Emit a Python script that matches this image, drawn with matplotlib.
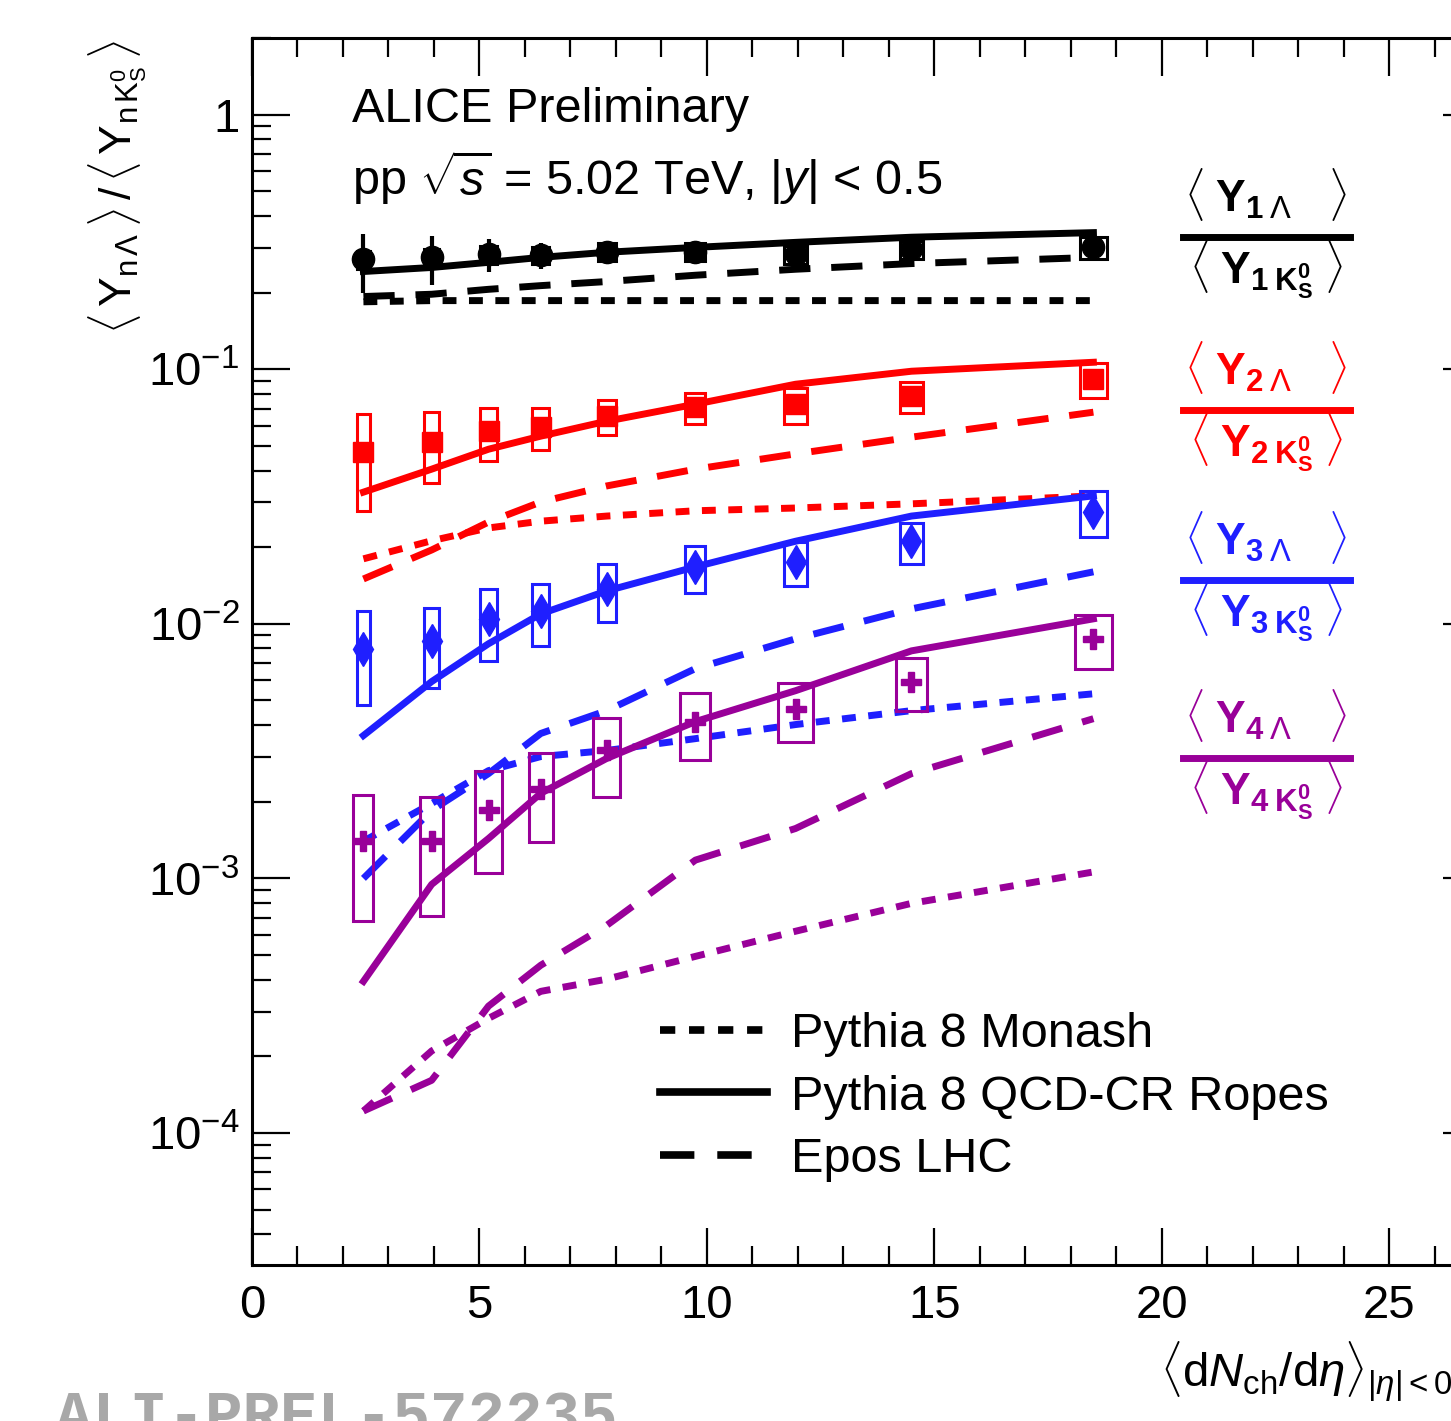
import numpy as np
import matplotlib.pyplot as plt
from matplotlib.patches import Rectangle
from matplotlib.lines import Line2D
from matplotlib.ticker import FixedLocator, FixedFormatter, MultipleLocator, LogLocator, NullFormatter

plt.rcParams['font.family'] = ['Liberation Sans', 'DejaVu Sans']
plt.rcParams['mathtext.fontset'] = 'custom'
plt.rcParams['mathtext.rm'] = 'Liberation Sans'
plt.rcParams['mathtext.it'] = 'Liberation Sans:italic'
plt.rcParams['mathtext.bf'] = 'Liberation Sans:bold'

W, H = 1451, 1421

# multiplicity classes <dNch/deta>
dndeta = [2.45, 3.95, 5.2, 6.35, 7.8, 9.75, 11.95, 14.5, 18.5]

# measured ratios <Y_nL>/<Y_nK0S>, n = 1..4
ratio_1 = [0.270, 0.275, 0.283, 0.280, 0.290, 0.290, 0.283, 0.296, 0.301]
stat_1 = [0.07, 0.06, 0.043, 0.033, 0.025, 0.025, 0.017, 0.025, 0.018]
sys_1 = [0.022, 0.022, 0.023, 0.022, 0.023, 0.023, 0.023, 0.024, 0.03]

ratio_2 = [0.0473, 0.0517, 0.0571, 0.0592, 0.0654, 0.0710, 0.0729, 0.0784, 0.0914]
sys_2 = [0.0195, 0.016, 0.0136, 0.011, 0.010, 0.010, 0.0117, 0.011, 0.014]

ratio_3 = [0.00798, 0.00858, 0.01046, 0.01125, 0.0137, 0.01674, 0.0175, 0.0211, 0.0275]
sys_3 = [0.0032, 0.003, 0.0033, 0.0031, 0.0035, 0.0035, 0.0034, 0.0039, 0.0056]

ratio_4 = [0.0014, 0.0014, 0.00185, 0.00225, 0.00318, 0.00413, 0.00464, 0.00593, 0.00873]
sys_4 = [0.00072, 0.00069, 0.0008, 0.00086, 0.0011, 0.0012, 0.0012, 0.0014, 0.0021]

# x uncertainty (box half widths)
xsys = [0.14, 0.165, 0.19, 0.19, 0.2, 0.22, 0.25, 0.26, 0.3]
xsys_4 = [0.22, 0.25, 0.29, 0.27, 0.3, 0.33, 0.38, 0.35, 0.41]

# models
ropes_1 = [0.242, 0.251, 0.263, 0.275, 0.288, 0.301, 0.315, 0.330, 0.344]
epos_1 = [0.193, 0.197, 0.206, 0.213, 0.221, 0.234, 0.247, 0.260, 0.275]
monash_1 = [0.184, 0.186, 0.186, 0.186, 0.186, 0.186, 0.186, 0.186, 0.186]

ropes_2 = [0.0329, 0.0405, 0.0485, 0.0546, 0.0625, 0.0729, 0.0873, 0.0982, 0.1065]
epos_2 = [0.0150, 0.0195, 0.0251, 0.0301, 0.0348, 0.0405, 0.0465, 0.0541, 0.0678]
monash_2 = [0.0180, 0.0212, 0.0238, 0.0253, 0.0265, 0.0278, 0.0285, 0.0296, 0.0318]

ropes_3 = [0.00364, 0.00593, 0.00835, 0.01094, 0.01347, 0.01674, 0.0211, 0.0265, 0.0318]
epos_3 = [0.00100, 0.00185, 0.00258, 0.00371, 0.00456, 0.00667, 0.00873, 0.01145, 0.0160]
monash_3 = [0.00140, 0.00197, 0.00265, 0.00301, 0.00318, 0.00354, 0.00402, 0.00456, 0.00531]

ropes_4 = [0.000394, 0.000947, 0.001434, 0.00216, 0.00296, 0.00413, 0.00546, 0.00783, 0.01046]
epos_4 = [0.000122, 0.000161, 0.000315, 0.000456, 0.000654, 0.00118, 0.00157, 0.00258, 0.00424]
monash_4 = [0.000122, 0.00021, 0.000282, 0.00036, 0.000402, 0.000494, 0.00062, 0.000798, 0.00106]

colors = ['#000000', '#ff0000', '#1f1fff', '#990099']
markers = ['o', 's', 'd', 'P']
msizes = [16, 14, 17, 15]

data = [ratio_1, ratio_2, ratio_3, ratio_4]
syss = [sys_1, sys_2, sys_3, sys_4]
boxw = [xsys, xsys, xsys, xsys_4]
ropes = [ropes_1, ropes_2, ropes_3, ropes_4]
epos = [epos_1, epos_2, epos_3, epos_4]
monash = [monash_1, monash_2, monash_3, monash_4]

LW = 5
DOT = (2.0, 1.8)
DASH = (4.5, 3.0)


def px(x, y):
    return x / W, 1 - y / H


fig = plt.figure(figsize=(W / 100, H / 100), dpi=100)
ax = fig.add_axes([252 / W, (H - 1265) / H, 1228 / W, 1227 / H])
ax.set_yscale('log')
ax.set_xlim(0, 27)
ax.set_ylim(3.03e-5, 2.0)

for i in range(4):
    c = colors[i]
    ax.plot(dndeta, monash[i], color=c, lw=LW, dashes=DOT, zorder=2)
    ax.plot(dndeta, ropes[i], color=c, lw=LW, zorder=2)
    ax.plot(dndeta, epos[i], color=c, lw=LW, dashes=DASH, zorder=2)
    for x, y, s, w in zip(dndeta, data[i], syss[i], boxw[i]):
        ax.add_patch(Rectangle((x - w, y - s), 2 * w, 2 * s, fill=False,
                               edgecolor=c, lw=2.2, zorder=3))
    ax.plot(dndeta, data[i], ls='none', marker=markers[i], ms=msizes[i],
            color=c, mec=c, zorder=4)

ax.errorbar(dndeta, ratio_1, yerr=stat_1, fmt='none', ecolor='k',
            elinewidth=3, capsize=0, zorder=4)

# axes styling
for sp in ax.spines.values():
    sp.set_linewidth(2.2)
ax.xaxis.set_major_locator(MultipleLocator(5))
ax.xaxis.set_minor_locator(MultipleLocator(1))
ax.yaxis.set_major_locator(FixedLocator([1e-4, 1e-3, 1e-2, 1e-1, 1]))
ax.yaxis.set_major_formatter(FixedFormatter([r'$10^{-4}$', r'$10^{-3}$', r'$10^{-2}$',
                                             r'$10^{-1}$', '1']))
ax.yaxis.set_minor_locator(LogLocator(base=10, subs=np.arange(2, 10), numticks=20))
ax.yaxis.set_minor_formatter(NullFormatter())
ax.tick_params(which='both', direction='in', top=True, right=True, width=1.6,
               labelsize=34)
ax.tick_params(which='major', length=27)
ax.tick_params(which='minor', length=14)
ax.tick_params(axis='x', pad=14)
ax.tick_params(axis='y', pad=9)

# texts
fig.text(*px(352, 122), 'ALICE Preliminary', fontsize=35, va='baseline')
fig.text(*px(352, 195), r'pp $\sqrt{s}$ = 5.02 TeV, $|y|$ < 0.5', fontsize=35,
         va='baseline')

fig.text(*px(118, 40),
         r'$\langle\,\mathrm{Y}_{\mathrm{n}\,\Lambda}\,\rangle\,/\,\langle\,\mathrm{Y}_{\mathrm{n}\,\mathrm{K}^{0}_{\mathrm{S}}}\,\rangle$',
         rotation=90, ha='center', va='top', fontsize=32)
fig.text(*px(1480, 1388),
         r'$\langle\mathrm{d}N_{\mathrm{ch}}/\mathrm{d}\eta\rangle_{|\eta|<0.5}$',
         ha='right', va='baseline', fontsize=34)
fig.text(*px(55, 1436), 'ALI-PREL-572235', fontsize=45, family='Liberation Mono',
         weight='bold', color='#a8a8a8', va='baseline')

# fraction labels on the right
bars_y = [237, 410, 580, 758]
for i, by in enumerate(bars_y):
    c = colors[i]
    n = i + 1
    fig.add_artist(Line2D([1183 / W, 1350 / W], [1 - by / H, 1 - by / H],
                          color=c, lw=5))
    fig.text(*px(1266, by - 26),
             r'$\langle\;\mathbf{Y}_{\mathbf{%d}\;\Lambda}\quad\rangle$' % n,
             color=c, ha='center', va='baseline', fontsize=32)
    fig.text(*px(1266, by + 46),
             r'$\langle\;\mathbf{Y}_{\mathbf{%d}\;\mathbf{K}^{\mathbf{0}}_{\mathbf{S}}}\;\rangle$' % n,
             color=c, ha='center', va='baseline', fontsize=32)

handles = [Line2D([], [], color='k', lw=LW + 0.5, dashes=DOT),
           Line2D([], [], color='k', lw=LW + 0.5),
           Line2D([], [], color='k', lw=LW + 0.5, dashes=DASH)]
labels = ['Pythia 8 Monash', 'Pythia 8 QCD-CR Ropes', 'Epos LHC']
ax.legend(handles, labels, loc='upper left',
          bbox_to_anchor=((660 - 252) / 1228, (1265 - 1012) / 1227),
          frameon=False, fontsize=35, handlelength=2.2, handletextpad=0.5,
          labelspacing=0.36, borderpad=0, borderaxespad=0)

fig.savefig('out.png', dpi=100)
